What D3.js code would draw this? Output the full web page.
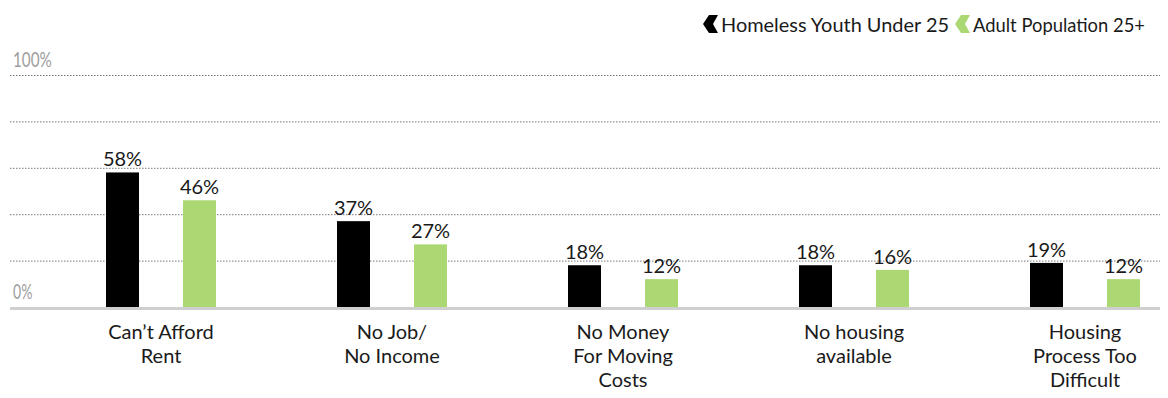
<!DOCTYPE html>
<html>
<head>
<meta charset="utf-8">
<script src="https://cdn.jsdelivr.net/npm/d3@7"></script>
<style>
  html, body { margin: 0; padding: 0; background: #fff; }
  svg { display: block; }
</style>
</head>
<body>
<svg id="chart" width="1168" height="398"></svg>
<script>
// Reasons given for homelessness, share of respondents (%)
const categories = [
  ["Can\u2019t Afford", "Rent"],
  ["No Job/", "No Income"],
  ["No Money", "For Moving", "Costs"],
  ["No housing", "available"],
  ["Housing", "Process Too", "Difficult"]
];
const seriesNames = ["Homeless Youth Under 25", "Adult Population 25+"];
const youthValues = [58, 37, 18, 18, 19];
const adultValues = [46, 27, 12, 16, 12];
const yTicks = [0, 20, 40, 60, 80, 100];
const yTickLabels = { 0: "0%", 100: "100%" };

const colors = ["#000000", "#acd873"];
const textColor = "#1a1a1a";
const svg = d3.select("#chart");

const catIdx = d3.range(categories.length);
const x0 = d3.scaleBand().domain(catIdx).range([45.5, 1200.5]).padding(0);
const x1 = d3.scaleBand().domain([0, 1]).range([-55, 55]).paddingInner(44 / 77).paddingOuter(0);
const y = d3.scaleLinear().domain([0, 100]).range([307, 75]);

// dotted gridlines
svg.append("g")
  .selectAll("line")
  .data(yTicks.filter(t => t > 0))
  .join("line")
  .attr("x1", 10).attr("x2", 1160)
  .attr("y1", d => y(d) + 0.5).attr("y2", d => y(d) + 0.5)
  .attr("stroke", "#777")
  .attr("stroke-width", 1)
  .attr("stroke-dasharray", "1.5,1.5");

// end labels of the value axis (narrow grey figures)
svg.append("g")
  .selectAll("text")
  .data(yTicks.filter(t => yTickLabels[t]))
  .join("text")
  .attr("x", 13)
  .attr("y", d => y(d) - 8)
  .attr("fill", "#a0a0a0")
  .attr("font-family", "Lato, sans-serif")
  .attr("font-size", 22)
  .attr("textLength", d => yTickLabels[d].length * 9.7)
  .attr("lengthAdjust", "spacingAndGlyphs")
  .text(d => yTickLabels[d]);

// bars
const groups = svg.append("g")
  .selectAll("g")
  .data(catIdx)
  .join("g")
  .attr("transform", i => `translate(${x0(i) + x0.bandwidth() / 2},0)`);

const rows = i => [youthValues[i], adultValues[i]].map((v, s) => ({ v, s }));

groups.selectAll("rect")
  .data(rows)
  .join("rect")
  .attr("x", d => x1(d.s))
  .attr("width", x1.bandwidth())
  .attr("y", d => y(d.v))
  .attr("height", d => y(0) - y(d.v))
  .attr("fill", d => colors[d.s]);

groups.selectAll("text.val")
  .data(rows)
  .join("text")
  .attr("class", "val")
  .attr("x", d => x1(d.s) + x1.bandwidth() / 2)
  .attr("y", d => y(d.v) - 6)
  .attr("text-anchor", "middle")
  .attr("fill", textColor)
  .attr("font-family", "Lato, sans-serif")
  .attr("font-size", 20)
  .text(d => d.v + "%");

// baseline
svg.append("line")
  .attr("x1", 10).attr("x2", 1160)
  .attr("y1", y(0) + 1.5).attr("y2", y(0) + 1.5)
  .attr("stroke", "#cfcfcf")
  .attr("stroke-width", 3);

// category labels
groups.append("text")
  .attr("text-anchor", "middle")
  .attr("fill", textColor)
  .attr("font-family", "Lato, sans-serif")
  .attr("font-size", 20)
  .selectAll("tspan")
  .data(i => categories[i])
  .join("tspan")
  .attr("x", 0)
  .attr("y", (d, k) => 339 + k * 24)
  .text(d => d);

// legend
const chevron = "M0,9 L6,0 L15,0 L10,9 L15,18 L6,18 Z";
const legendItems = [
  { x: 703, name: seriesNames[0], color: colors[0], w: 228 },
  { x: 955, name: seriesNames[1], color: colors[1], w: 172 }
];
const lg = svg.append("g").selectAll("g").data(legendItems).join("g")
  .attr("transform", d => `translate(${d.x},15)`);
lg.append("path").attr("d", chevron).attr("fill", d => d.color);
lg.append("text")
  .attr("x", 18)
  .attr("y", 16.5)
  .attr("fill", textColor)
  .attr("font-family", "Lato, sans-serif")
  .attr("font-size", 20)
  .attr("textLength", d => d.w)
  .attr("lengthAdjust", "spacingAndGlyphs")
  .text(d => d.name);
</script>
</body>
</html>
